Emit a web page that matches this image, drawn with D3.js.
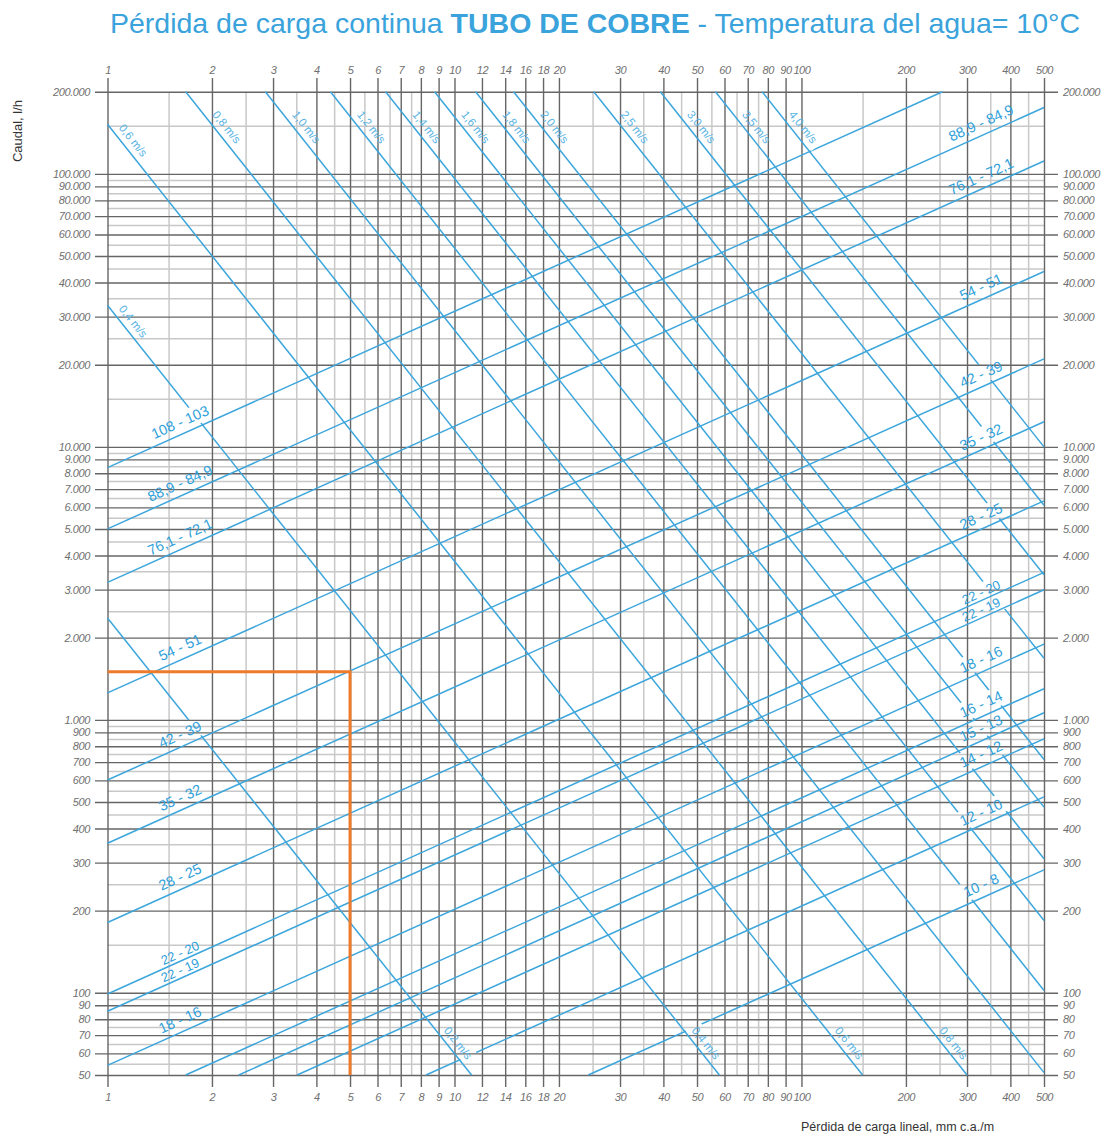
<!DOCTYPE html>
<html>
<head>
<meta charset="utf-8">
<script src="https://cdn.jsdelivr.net/npm/d3@7"></script>
<style>
  body { margin: 0; background: #fff; }
  text { font-family: "Liberation Sans", Arial, sans-serif; }
</style>
</head>
<body>
<div id="chart"></div>
<script>
// ticks
const xTicks = [1, 2, 3, 4, 5, 6, 7, 8, 9, 10, 12, 14, 16, 18, 20, 30, 40, 50, 60, 70, 80, 90, 100, 200, 300, 400, 500];
const xMinor = [1.5, 2.5, 3.5, 4.5, 5.5, 6.5, 7.5, 25, 35, 45, 55, 65, 75, 150, 250, 350, 450];
const yTicks = [50, 60, 70, 80, 90, 100, 200, 300, 400, 500, 600, 700, 800, 900, 1000,
  2000, 3000, 4000, 5000, 6000, 7000, 8000, 9000, 10000,
  20000, 30000, 40000, 50000, 60000, 70000, 80000, 90000, 100000, 200000];
const yMinor = [55, 65, 75, 85, 95, 150, 250, 350, 450, 550, 650, 750, 850, 950,
  1500, 2500, 3500, 4500, 5500, 6500, 7500, 8500, 9500,
  15000, 25000, 35000, 45000, 55000, 65000, 75000, 85000, 95000, 150000];

// velocity lines (m/s): start and end points [pérdida, caudal]
const velNames = ["0,2 m/s", "0,4 m/s", "0,6 m/s", "0,8 m/s", "1,0 m/s", "1,2 m/s", "1,4 m/s",
  "1,6 m/s", "1,8 m/s", "2,0 m/s", "2,5 m/s", "3,0 m/s", "3,5 m/s", "4,0 m/s"];
const velStart = [[1, 2360], [1, 33000], [1, 152000], [1.68, 200000], [2.85, 200000], [4.39, 200000],
  [6.33, 200000], [8.76, 200000], [11.5, 200000], [14.8, 200000], [25.2, 200000], [39.2, 200000],
  [56.5, 200000], [77, 200000]];
const velEnd = [[11.2, 50], [58, 50], [150, 50], [300, 50], [500, 51], [500, 102], [500, 184],
  [500, 310], [500, 479], [500, 716], [500, 1680], [500, 3400], [500, 6110], [500, 10000]];
const velTopLabel = [false, true, true, true, true, true, true, true, true, true, true, true, true, true];
const velBottomLabel = [true, true, true, true, false, false, false, false, false, false, false, false, false, false];

// copper pipe lines (diámetro ext - int, mm)
const pipeNames = ["108 - 103", "88,9 - 84,9", "76,1 - 72,1", "54 - 51", "42 - 39", "35 - 32", "28 - 25",
  "22 - 20", "22 - 19", "18 - 16", "16 - 14", "15 - 13", "14 - 12", "12 - 10", "10 - 8"];
const pipeStart = [[1, 8390], [1, 5007], [1, 3187], [1, 1255], [1, 602], [1, 353], [1, 181],
  [1, 99], [1, 85.6], [1, 54.2], [1.68, 50], [2.39, 50], [3.52, 50], [8.28, 50], [24.3, 50]];
const pipeEnd = [[255, 200000], [500, 175000], [500, 111500], [500, 43900], [500, 21000], [500, 12360],
  [500, 6340], [500, 3470], [500, 2995], [500, 1895], [500, 1300], [500, 1062], [500, 852], [500, 522], [500, 282]];
const pipeLeftLabel = [true, true, true, true, true, true, true, true, true, true, false, false, false, false, false];
const pipeRightLabel = [false, true, true, true, true, true, true, true, true, true, true, true, true, true, true];

// example reading marked in orange
const markJ = 5, markQ = 1500;

const width = 1110, height = 1135;
const blue = "#3ca6dc";

const svg = d3.select("#chart").append("svg")
  .attr("width", width)
  .attr("height", height);

const x = d3.scaleLog().domain([1, 500]).range([107.5, 1044]);
const y = d3.scaleLog().domain([50, 200000]).range([1075, 91.7]);

const locale = d3.formatLocale({ decimal: ",", thousands: ".", grouping: [3], currency: ["", ""] });
const fmt = locale.format(",d");

const defs = svg.append("defs");

// title
const title = svg.append("text")
  .attr("x", 595).attr("y", 33)
  .attr("text-anchor", "middle")
  .attr("fill", "#3aa3dc")
  .attr("font-size", 28.5);
title.append("tspan").text("Pérdida de carga continua ");
title.append("tspan").attr("font-weight", "bold").text("TUBO DE COBRE");
title.append("tspan").text(" - Temperatura del agua= 10°C");

// minor grid
svg.append("g")
  .attr("transform", "translate(0," + y(50) + ")")
  .call(d3.axisBottom(x).tickValues(xMinor).tickFormat("").tickSize(-(y(50) - y(200000))))
  .call(g => g.select(".domain").remove())
  .selectAll("line").attr("stroke", "#c8c8c8").attr("stroke-width", 1.5);

svg.append("g")
  .attr("transform", "translate(" + x(1) + ",0)")
  .call(d3.axisLeft(y).tickValues(yMinor).tickFormat("").tickSize(-(x(500) - x(1))))
  .call(g => g.select(".domain").remove())
  .selectAll("line").attr("stroke", "#c8c8c8").attr("stroke-width", 1.5);

// major grid + labels
const styleTicks = g => {
  g.select(".domain").remove();
  g.attr("font-family", null).attr("font-size", null);
  g.selectAll("line").attr("stroke", "#666").attr("stroke-width", 1.4);
  g.selectAll("text")
    .attr("fill", "#707070")
    .attr("font-size", 11)
    .attr("font-style", "italic")
    .attr("letter-spacing", -0.4);
};

svg.append("g")
  .attr("transform", "translate(0,78)")
  .call(d3.axisTop(x).tickValues(xTicks).tickFormat(d => d).tickSize(-(1087 - 78)).tickPadding(4))
  .call(styleTicks);

svg.append("g")
  .attr("transform", "translate(0,1087)")
  .call(d3.axisBottom(x).tickValues(xTicks).tickFormat(d => d).tickSize(0).tickPadding(6))
  .call(styleTicks);

svg.append("g")
  .attr("transform", "translate(95,0)")
  .call(d3.axisLeft(y).tickValues(yTicks).tickFormat(fmt).tickSize(-(1058 - 95)).tickPadding(5))
  .call(styleTicks);

svg.append("g")
  .attr("transform", "translate(1058,0)")
  .call(d3.axisRight(y).tickValues(yTicks).tickFormat(fmt).tickSize(0).tickPadding(5))
  .call(styleTicks);

// masks: labels cut gaps into the lines they cross
function makeMask(id) {
  const m = defs.append("mask").attr("id", id)
    .attr("maskUnits", "userSpaceOnUse")
    .attr("x", 0).attr("y", 0).attr("width", width).attr("height", height);
  m.append("rect").attr("width", width).attr("height", height).attr("fill", "#fff");
  return m;
}
const maskVel = makeMask("maskVel");
const maskPipe = makeMask("maskPipe");

const line = d3.line().x(d => x(d[0])).y(d => y(d[1]));

const velG = svg.append("g").attr("mask", "url(#maskVel)");
const pipeG = svg.append("g").attr("mask", "url(#maskPipe)");
const labelG = svg.append("g");

velStart.forEach((s, i) => {
  velG.append("path")
    .attr("d", line([s, velEnd[i]]))
    .attr("fill", "none").attr("stroke", blue).attr("stroke-width", 1.5);
});
pipeStart.forEach((s, i) => {
  pipeG.append("path")
    .attr("d", line([s, pipeEnd[i]]))
    .attr("fill", "none").attr("stroke", blue).attr("stroke-width", 1.5);
});

function addLabel(txt, cx, cy, angle, size, color, mask) {
  const tr = "translate(" + cx + "," + cy + ") rotate(" + angle + ")";
  const t = labelG.append("text")
    .attr("transform", tr)
    .attr("text-anchor", "middle")
    .attr("dy", "0.35em")
    .attr("font-size", size)
    .attr("fill", color)
    .text(txt);
  const w = t.node().getComputedTextLength();
  mask.append("rect")
    .attr("transform", tr)
    .attr("x", -w / 2 - 5).attr("y", -0.38 * size - 4)
    .attr("width", w + 10).attr("height", 0.76 * size + 8)
    .attr("fill", "#000");
}

// pipe labels
pipeStart.forEach((s, i) => {
  const x1 = x(s[0]), y1 = y(s[1]), x2 = x(pipeEnd[i][0]), y2 = y(pipeEnd[i][1]);
  const ang = Math.atan2(y2 - y1, x2 - x1) * 180 / Math.PI;
  const small = pipeNames[i].startsWith("22");
  const off = small ? 8.5 : 13;
  const size = small ? 13 : 14.5;
  const at = lx => y1 + (lx - x1) * (y2 - y1) / (x2 - x1);
  if (pipeLeftLabel[i]) addLabel(pipeNames[i], 180, at(180) - off, ang, size, "#2f9fda", maskVel);
  if (pipeRightLabel[i]) addLabel(pipeNames[i], 981, at(981) - off, ang, size, "#2f9fda", maskVel);
});

// velocity labels
velStart.forEach((s, i) => {
  const x1 = x(s[0]), y1 = y(s[1]), x2 = x(velEnd[i][0]), y2 = y(velEnd[i][1]);
  const ang = Math.atan2(y2 - y1, x2 - x1) * 180 / Math.PI;
  const at = ly => x1 + (ly - y1) * (x2 - x1) / (y2 - y1);
  if (velTopLabel[i]) {
    const ly = Math.max(y1 + 16, 127);
    addLabel(velNames[i], at(ly) + 13, ly, ang, 11.5, "#5ab4e4", maskPipe);
  }
  if (velBottomLabel[i]) {
    addLabel(velNames[i], at(1043) + 12, 1043, ang, 11.5, "#5ab4e4", maskPipe);
  }
});

// orange reading
svg.append("path")
  .attr("d", line([[1, markQ], [markJ, markQ], [markJ, 50]]))
  .attr("fill", "none")
  .attr("stroke", "#ee7b2c")
  .attr("stroke-width", 3);

// axis titles
svg.append("text")
  .attr("transform", "translate(22,131) rotate(-90)")
  .attr("text-anchor", "middle")
  .attr("font-size", 13)
  .attr("fill", "#333")
  .text("Caudal, l/h");

svg.append("text")
  .attr("x", 801).attr("y", 1131)
  .attr("font-size", 12.5)
  .attr("fill", "#333")
  .text("Pérdida de carga lineal, mm c.a./m");
</script>
</body>
</html>
